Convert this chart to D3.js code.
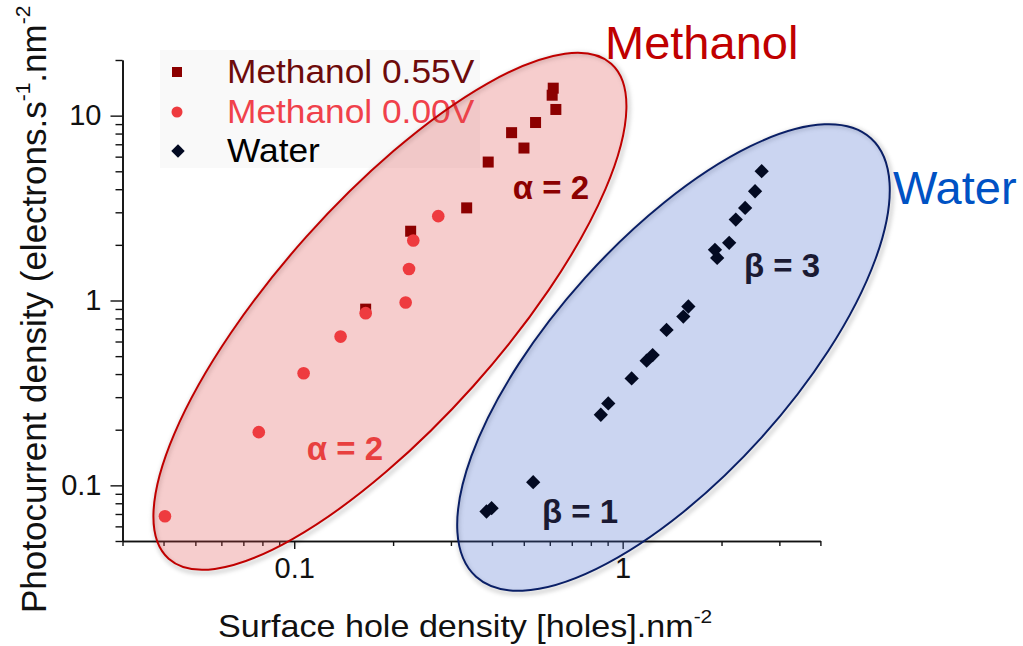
<!DOCTYPE html>
<html>
<head>
<meta charset="utf-8">
<script src="https://cdn.jsdelivr.net/npm/d3@7"></script>
<style>
  html, body { margin: 0; padding: 0; background: #ffffff; }
  svg { display: block; }
  text { font-family: "Liberation Sans", Arial, Helvetica, sans-serif; }
</style>
</head>
<body>
<svg id="chart" width="1023" height="646"></svg>
<script>
// Surface hole density (holes.nm^-2) vs photocurrent density (electrons.s^-1.nm^-2)
const methanol055X = [0.165, 0.2262, 0.335, 0.3896, 0.459, 0.5006, 0.543, 0.610, 0.6146, 0.626];
const methanol055Y = [0.898, 2.37, 3.17, 5.61, 8.09, 6.68, 9.18, 12.9, 14.08, 10.8];

const methanol000X = [0.0404, 0.078, 0.1068, 0.1384, 0.165, 0.2184, 0.2236, 0.2304, 0.2745];
const methanol000Y = [0.068, 0.194, 0.404, 0.638, 0.854, 0.975, 1.48, 2.11, 2.86];

const waterX = [0.385, 0.399, 0.534, 0.858, 0.904, 1.065, 1.183, 1.234, 1.36, 1.53, 1.585, 1.91, 1.94, 2.11, 2.21, 2.36, 2.53, 2.65];
const waterY = [0.0722, 0.0753, 0.104, 0.241, 0.2775, 0.379, 0.4725, 0.507, 0.693, 0.819, 0.928, 1.88, 1.70, 2.05, 2.74, 3.17, 3.90, 5.01];

const seriesNames = ["Methanol 0.55V", "Methanol 0.00V", "Water"];

const xDomain = [0.03, 4];
const yDomain = [0.05, 20];
const xMajorTicks = [0.1, 1];
const xTickLabels = ["0.1", "1"];
const yMajorTicks = [0.1, 1, 10];
const yTickLabels = ["0.1", "1", "10"];

// Regime groupings (centre in data units) and their slope labels
const groupNames = ["Methanol", "Water"];
const groupCentreX = [0.1956, 1.428];
const groupCentreY = [0.874, 0.4917];
const slopeLabels = ["α = 2", "α = 2", "β = 3", "β = 1"];
const slopeLabelX = [0.605, 0.1427, 3.056, 0.742];
const slopeLabelY = [3.52, 0.1366, 1.345, 0.0622];

const svg = d3.select("#chart");
const margin = { left: 122.5, right: 1023 - 820.4, top: 60, bottom: 646 - 541 };
const W = 1023, H = 646;

const x = d3.scaleLog().domain(xDomain).range([margin.left, W - margin.right]);
const y = d3.scaleLog().domain(yDomain).range([H - margin.bottom, margin.top]);

// minor ticks: every integer multiple inside each decade
function minorTicks(domain, majors) {
  const out = [];
  for (let e = -3; e <= 2; e++) {
    for (let m = 1; m <= 9; m++) {
      const v = +(m * Math.pow(10, e)).toPrecision(6);
      if (v >= domain[0] - 1e-9 && v <= domain[1] + 1e-9 && !majors.some(t => Math.abs(t - v) < 1e-9)) out.push(v);
    }
  }
  return out;
}

const defs = svg.append("defs");
const blur = defs.append("filter").attr("id", "soft").attr("x", "-20%").attr("y", "-20%").attr("width", "140%").attr("height", "140%");
blur.append("feGaussianBlur").attr("stdDeviation", 2.2);

// legend backdrop
svg.append("rect")
  .attr("x", 160).attr("y", 50).attr("width", 320).attr("height", 118)
  .attr("fill", "#f9f9f9");

// legend
const legendColours = ["#6e0b0b", "#f0414b", "#000000"];
const markerColours = ["#8c0000", "#ee3b3f", "#030a22"];
const legendRows = [72, 112, 151];
const legend = svg.append("g");
seriesNames.forEach((name, i) => {
  const row = legendRows[i];
  if (i === 0) legend.append("rect").attr("x", 172).attr("y", row - 5).attr("width", 10).attr("height", 10).attr("fill", markerColours[0]);
  if (i === 1) legend.append("circle").attr("cx", 177).attr("cy", row).attr("r", 5.5).attr("fill", markerColours[1]);
  if (i === 2) legend.append("path").attr("d", d3.symbol(d3.symbolDiamond2, 115)()).attr("transform", `translate(178,${row})`).attr("fill", markerColours[2]);
  legend.append("text").attr("x", 227).attr("y", row + 11)
    .attr("font-size", 33).attr("fill", legendColours[i])
    .attr("transform", `translate(227,0) scale(1.07,1) translate(-227,0)`)
    .text(name);
});

// axes
const axisG = svg.append("g");
const xAxisMinor = d3.axisBottom(x).tickValues(minorTicks(xDomain, xMajorTicks)).tickSize(5).tickSizeOuter(0).tickFormat("");
const xAxisMajor = d3.axisBottom(x).tickValues(xMajorTicks).tickSize(8).tickSizeOuter(0).tickPadding(8)
  .tickFormat((d, i) => xTickLabels[i]);
const yAxisMinor = d3.axisLeft(y).tickValues(minorTicks(yDomain, yMajorTicks)).tickSize(7).tickSizeOuter(0).tickFormat("");
const yAxisMajor = d3.axisLeft(y).tickValues(yMajorTicks).tickSize(12).tickSizeOuter(0).tickPadding(9)
  .tickFormat((d, i) => yTickLabels[i]);

function styleAxis(g) {
  g.select(".domain").attr("stroke", "#111").attr("stroke-width", 1.6);
  g.selectAll(".tick line").attr("stroke", "#111").attr("stroke-width", 1.4);
  g.selectAll(".tick text").attr("font-family", '"Liberation Sans", Arial, sans-serif')
    .attr("font-size", 29).attr("fill", "#111");
}
axisG.append("g").attr("transform", `translate(0,${H - margin.bottom})`).call(xAxisMinor).call(styleAxis);
axisG.append("g").attr("transform", `translate(0,${H - margin.bottom})`).call(xAxisMajor).call(styleAxis);
axisG.append("g").attr("transform", `translate(${margin.left},0)`).call(yAxisMinor).call(styleAxis);
axisG.append("g").attr("transform", `translate(${margin.left},0)`).call(yAxisMajor).call(styleAxis);

// axis titles
const xt = svg.append("text").attr("x", 218).attr("y", 637).attr("font-size", 31).attr("fill", "#111")
  .attr("transform", "translate(218,0) scale(1.1,1) translate(-218,0)");
xt.append("tspan").text("Surface hole density [holes].nm");
xt.append("tspan").attr("font-size", 19).attr("dy", -14).text("-2");

const yt = svg.append("text").attr("transform", "translate(46,613) rotate(-90)")
  .attr("font-size", 35).attr("fill", "#111");
yt.append("tspan").text("Photocurrent density (electrons.s");
yt.append("tspan").attr("font-size", 21).attr("dy", -16).text("-1");
yt.append("tspan").attr("dy", 16).text(".nm");
yt.append("tspan").attr("font-size", 21).attr("dy", -16).text("-2");

// grouping ellipses
const ellipseStyle = [
  { rx: 332, ry: 112, angle: -48.2, fill: "rgba(220,70,70,0.27)", stroke: "#c00000" },
  { rx: 295, ry: 119, angle: -48, fill: "rgba(70,105,205,0.28)", stroke: "#0a1f66" }
];
const ellG = svg.append("g");
groupNames.forEach((g, i) => {
  const s = ellipseStyle[i];
  const cx = x(groupCentreX[i]), cy = y(groupCentreY[i]);
  ellG.append("ellipse")
    .attr("cx", 0).attr("cy", 0).attr("rx", s.rx + 1).attr("ry", s.ry + 1)
    .attr("transform", `translate(${cx + 1.5},${cy + 2}) rotate(${s.angle})`)
    .attr("fill", "none").attr("stroke", "rgba(0,0,0,0.22)").attr("stroke-width", 3)
    .attr("filter", "url(#soft)");
  ellG.append("ellipse")
    .attr("cx", 0).attr("cy", 0).attr("rx", s.rx).attr("ry", s.ry)
    .attr("transform", `translate(${cx},${cy}) rotate(${s.angle})`)
    .attr("fill", s.fill).attr("stroke", s.stroke).attr("stroke-width", 2);
});

// data markers
const marks = svg.append("g");
marks.selectAll("rect.m055").data(d3.zip(methanol055X, methanol055Y)).join("rect")
  .attr("class", "m055")
  .attr("x", d => x(d[0]) - 5.5).attr("y", d => y(d[1]) - 5.5)
  .attr("width", 11).attr("height", 11).attr("fill", markerColours[0]);
marks.selectAll("circle.m000").data(d3.zip(methanol000X, methanol000Y)).join("circle")
  .attr("class", "m000")
  .attr("cx", d => x(d[0])).attr("cy", d => y(d[1])).attr("r", 6.3)
  .attr("fill", markerColours[1]);
marks.selectAll("path.water").data(d3.zip(waterX, waterY)).join("path")
  .attr("class", "water")
  .attr("d", d3.symbol(d3.symbolDiamond2, 130)())
  .attr("transform", d => `translate(${x(d[0])},${y(d[1])})`)
  .attr("fill", markerColours[2]);

// slope annotations
const slopeColours = ["#8c0000", "#e8403f", "#1a1a33", "#1a1a33"];
slopeLabels.forEach((t, i) => {
  svg.append("text")
    .attr("x", x(slopeLabelX[i])).attr("y", y(slopeLabelY[i]))
    .attr("font-size", 33).attr("font-weight", "bold").attr("fill", slopeColours[i])
    .attr("text-anchor", "middle")
    .text(t);
});

// group titles
const groupTitleColours = ["#c00000", "#0052c4"];
const groupTitlePos = [[605, 59], [893, 204]];
groupNames.forEach((g, i) => {
  svg.append("text")
    .attr("x", groupTitlePos[i][0]).attr("y", groupTitlePos[i][1])
    .attr("font-size", 47).attr("fill", groupTitleColours[i])
    .text(g);
});
</script>
</body>
</html>
